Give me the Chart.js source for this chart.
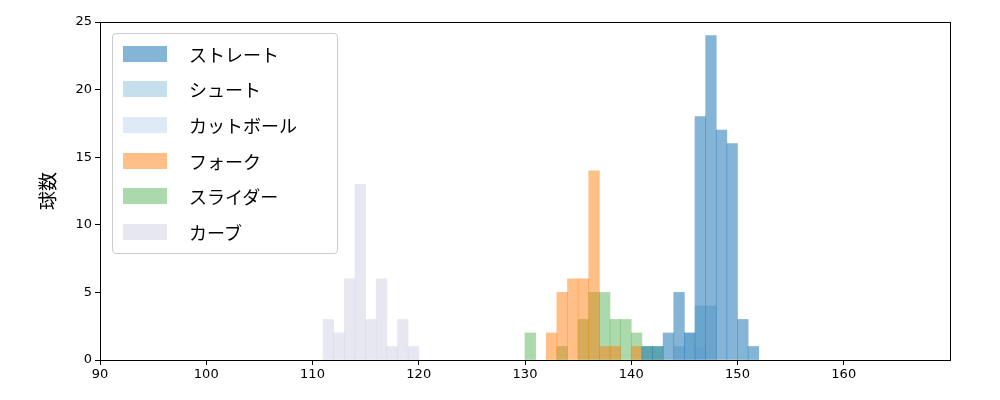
<!DOCTYPE html>
<html>
<head>
<meta charset="utf-8">
<script src="https://cdn.jsdelivr.net/npm/chart.js@4"></script>
<style>
body { margin: 0; background: #fff; }
#wrap { position: relative; width: 1000px; height: 400px; }
#legend { position: absolute; left: 112px; top: 33px; width: 226px; height: 221px; box-sizing: border-box;
  border: 1px solid #ccc; border-radius: 4px; background: rgba(255,255,255,0.8);
  font-family: "Noto Sans CJK JP", sans-serif; font-size: 18px; padding: 2px 0 0 10px; }
.item { display: flex; align-items: center; height: 35.6px; }
.sw { width: 44px; height: 16px; margin-right: 22px; }
</style>
</head>
<body>
<div id="wrap">
<canvas id="c" width="1000" height="400"></canvas>
<div id="legend"></div>
</div>
<script>
// bin centers (1 km/h bins) and counts per pitch type
const names = ['ストレート', 'シュート', 'カットボール', 'フォーク', 'スライダー', 'カーブ']
const colors = ['rgba(31,119,180,0.55)', 'rgba(158,202,225,0.6)', 'rgba(198,219,239,0.6)',
  'rgba(255,127,14,0.5)', 'rgba(44,160,44,0.4)', 'rgba(208,208,230,0.5)']

const straightX = [141.5, 142.5, 143.5, 144.5, 145.5, 146.5, 147.5, 148.5, 149.5, 150.5, 151.5]
const straightY = [1, 1, 2, 5, 2, 18, 24, 17, 16, 3, 1]
const shootX = [144.5, 145.5, 146.5, 147.5]
const shootY = [1, 2, 4, 4]
const cutX = [146.5]
const cutY = [1]
const forkX = [132.5, 133.5, 134.5, 135.5, 136.5, 137.5, 138.5, 140.5]
const forkY = [2, 5, 6, 6, 14, 1, 1, 1]
const sliderX = [130.5, 133.5, 135.5, 136.5, 137.5, 138.5, 139.5, 140.5, 141.5, 142.5]
const sliderY = [2, 1, 3, 5, 5, 3, 3, 2, 1, 1]
const curveX = [111.5, 112.5, 113.5, 114.5, 115.5, 116.5, 117.5, 118.5, 119.5]
const curveY = [3, 2, 6, 13, 3, 6, 1, 3, 1]

const xs = [straightX, shootX, cutX, forkX, sliderX, curveX]
const ys = [straightY, shootY, cutY, forkY, sliderY, curveY]

const datasets = names.map(function (n, i) {
    return {
        label: n,
        data: xs[i].map(function (x, j) { return { x: x, y: ys[i][j] } }),
        backgroundColor: colors[i],
        barPercentage: 1,
        categoryPercentage: 1,
        grouped: false
    }
})

let leg = document.getElementById('legend')
names.forEach(function (n, i) {
    leg.innerHTML += '<div class="item"><div class="sw" style="background:' + colors[i] + '"></div>' + n + '</div>'
})

const frame = {
    id: 'frame',
    afterDraw(chart) {
        const a = chart.chartArea, ctx = chart.ctx
        ctx.save()
        ctx.strokeStyle = '#000'
        ctx.lineWidth = 1
        ctx.strokeRect(a.left + 0.5, a.top + 0.5, a.right - a.left, a.bottom - a.top)
        ctx.restore()
    }
}

const tickFont = { family: 'DejaVu Sans', size: 13 }
const axisGrid = { drawOnChartArea: false, drawTicks: true, tickLength: 5, color: '#000', offset: false }
new Chart(document.getElementById('c'), {
    type: 'bar',
    data: { datasets },
    options: {
        responsive: false,
        animation: false,
        layout: { padding: { top: 22, right: 50, left: 36, bottom: 0 } },
        plugins: { legend: { display: false }, tooltip: { enabled: false } },
        scales: {
            x: {
                type: 'linear', min: 90, max: 170, offset: false,
                grid: Object.assign({}, axisGrid, {
                    color: function (c) { return c.tick && c.tick.value >= 170 ? 'rgba(0,0,0,0)' : '#000' } }),
                border: { color: '#000' },
                ticks: { stepSize: 10, color: '#000', font: tickFont, padding: 2,
                    callback: function (v) { return v >= 170 ? '' : v } },
                afterFit(s) { s.height = 40 }
            },
            y: {
                min: 0, max: 25,
                grid: axisGrid,
                border: { color: '#000' },
                ticks: { stepSize: 5, color: '#000', font: tickFont, padding: 3 },
                title: { display: true, text: '球数', color: '#000', padding: { top: 0, bottom: 2 },
                    font: { family: 'Noto Sans CJK JP', size: 19 } },
                afterFit(s) { s.width = 64 }
            }
        }
    },
    plugins: [frame]
})
</script>
</body>
</html>
